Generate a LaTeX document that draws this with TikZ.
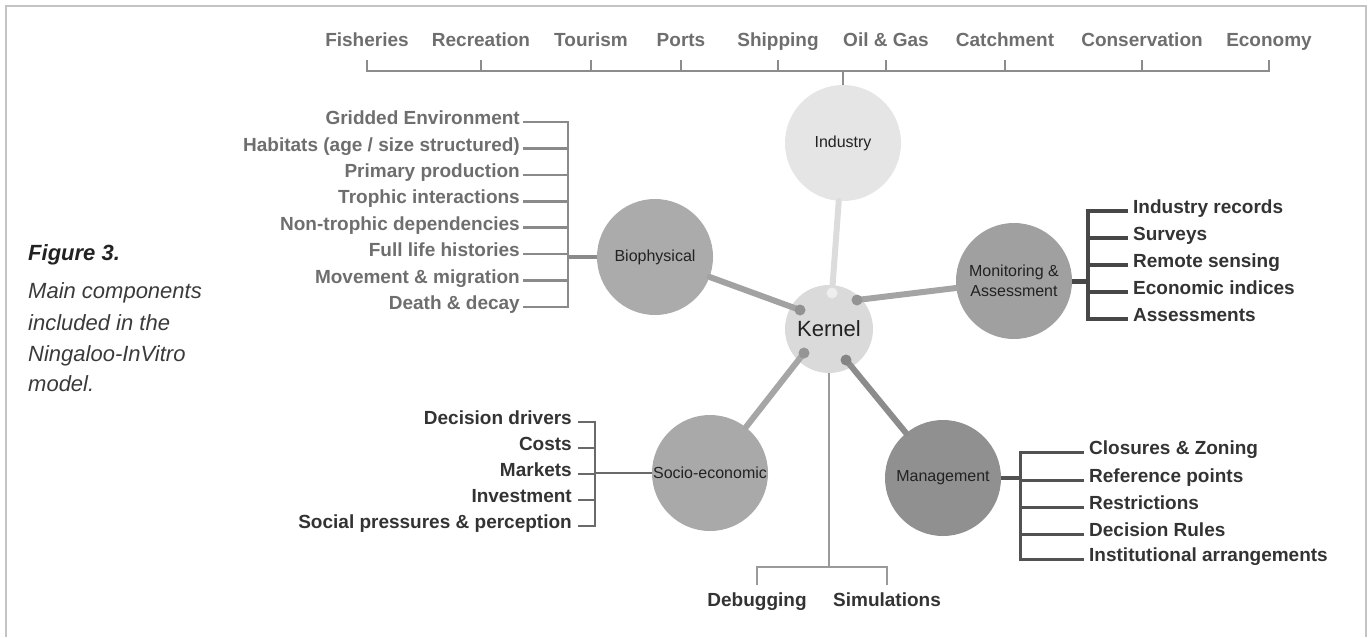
\documentclass[tikz,border=0pt]{standalone}
\usepackage{fontspec}
\setmainfont{Liberation Sans}
\usetikzlibrary{calc}
\definecolor{framec}{HTML}{C4C4C4}
\definecolor{topc}{HTML}{6E6E6E}
\definecolor{barc}{HTML}{8C8C8C}
\definecolor{indc}{HTML}{E5E5E5}
\definecolor{kerc}{HTML}{DADADA}
\definecolor{bioc}{HTML}{ABABAB}
\definecolor{monc}{HTML}{A0A0A0}
\definecolor{socc}{HTML}{A9A9A9}
\definecolor{mgc}{HTML}{909090}
\definecolor{indl}{HTML}{DCDCDC}
\definecolor{indd}{HTML}{EEEEEE}
\definecolor{biol}{HTML}{A2A2A2}
\definecolor{monl}{HTML}{A4A4A4}
\definecolor{socl}{HTML}{A6A6A6}
\definecolor{mgl}{HTML}{8C8C8C}
\definecolor{bioitem}{HTML}{6E6E6E}
\definecolor{biobr}{HTML}{8A8A8A}
\definecolor{monbr}{HTML}{474747}
\definecolor{mgbr}{HTML}{525252}
\definecolor{socbr}{HTML}{6A6A6A}
\definecolor{darkt}{HTML}{333333}
\definecolor{labc}{HTML}{222222}
\definecolor{capc}{HTML}{3A3A3A}
\definecolor{dbgbr}{HTML}{9A9A9A}
\tikzset{
  toplab/.style={font=\fontsize{19}{22}\selectfont\bfseries, text=topc, inner sep=0pt, anchor=mid},
  itemfont/.style={font=\fontsize{19}{22}\selectfont\bfseries, inner ysep=0pt},
  itemleft/.style={itemfont, anchor=mid east, inner xsep=3pt},
  itemright/.style={itemfont, anchor=mid west, inner xsep=5pt},
  blob/.style={circle, inner sep=0pt, minimum size=116pt, font=\fontsize{16}{20}\selectfont, text=labc, align=center},
  kline/.style={line width=6pt, line cap=round},
  capline/.style={font=\fontsize{22}{26}\selectfont\itshape, text=capc, anchor=base west, inner sep=0pt},
}
\begin{document}
\begin{tikzpicture}[x=1pt,y=-1pt]
\useasboundingbox (0,0) rectangle (1370,637);
\draw[framec, line width=1.5pt] (6,637) -- (6,6) -- (1366,6) -- (1366,637);

% caption
\node[capline, font=\fontsize{22}{26}\selectfont\bfseries\itshape, text=labc] (fig) at (28,260) {Figure 3.};
\node[capline] (c1) at (28,298) {Main components};
\node[capline] (c2) at (28,330) {included in the};
\node[capline] (c3) at (28,361) {Ningaloo-InVitro};
\node[capline] (c4) at (28,391) {model.};

% top labels
\node[toplab] (t1) at (367,44) {Fisheries};
\node[toplab] (t2) at (481,44) {Recreation};
\node[toplab] (t3) at (591,44) {Tourism};
\node[toplab] (t4) at (681,44) {Ports};
\node[toplab] (t5) at (778,44) {Shipping};
\node[toplab] (t6) at (886,44) {Oil \& Gas};
\node[toplab] (t7) at (1005,44) {Catchment};
\node[toplab] (t8) at (1142,44) {Conservation};
\node[toplab] (t9) at (1269,44) {Economy};
\coordinate (tt) at (0,60);
\coordinate (tb) at (0,71);

% circles
\node[blob, fill=indc] (ind) at (843,143) {Industry};
\node[blob, fill=kerc, minimum size=88pt, font=\fontsize{22}{26}\selectfont] (ker) at (829,329) {Kernel};
\node[blob, fill=bioc] (bio) at (655,257) {Biophysical};
\node[blob, fill=monc] (mon) at (1014,281) {Monitoring \&\\Assessment};
\node[blob, fill=socc] (soc) at (710,473) {Socio-economic};
\node[blob, fill=mgc] (mgt) at (943,478) {Management};

% top bar
\begin{scope}[barc, line width=2.6pt]
\foreach \n in {t1,t2,t3,t4,t5,t6,t7,t8,t9}
  \draw (\n.mid |- tt) -- (\n.mid |- tb);
\draw[line cap=rect] (t1.mid |- tb) -- (t9.mid |- tb);
\draw (ind.north) -- (ind.north |- tb);
\end{scope}

% kernel connectors
\coordinate (dind) at (832,293);
\coordinate (dbio) at (800,310);
\coordinate (dmon) at (857,300);
\coordinate (dsoc) at (804,353);
\coordinate (dmgt) at (846,360);
\draw[kline, indl] (dind) -- (ind);
\fill[indd] (dind) circle (5.5pt);
\draw[kline, biol] (dbio) -- (bio);
\fill[biol!90!black] (dbio) circle (5.5pt);
\draw[kline, monl] (dmon) -- (mon);
\fill[monl!90!black] (dmon) circle (5.5pt);
\draw[kline, socl] (dsoc) -- (soc);
\fill[socl!90!black] (dsoc) circle (5.5pt);
\draw[kline, mgl] (dmgt) -- (mgt);
\fill[mgl!95!black] (dmgt) circle (5.5pt);

% Biophysical items
\begin{scope}[text=bioitem]
\node[itemleft] (b1) at (523,122) {Gridded Environment};
\node[itemleft] (b2) at (523,148.4) {Habitats (age / size structured)};
\node[itemleft] (b3) at (523,174.9) {Primary production};
\node[itemleft] (b4) at (523,201.3) {Trophic interactions};
\node[itemleft] (b5) at (523,227.7) {Non-trophic dependencies};
\node[itemleft] (b6) at (523,254.1) {Full life histories};
\node[itemleft] (b7) at (523,280.6) {Movement \& migration};
\node[itemleft] (b8) at (523,307) {Death \& decay};
\end{scope}
\coordinate (bbar) at (568,0);
\begin{scope}[biobr, line width=2.6pt]
\foreach \n in {b1,b2,b3,b4,b5,b6,b7,b8}
  \draw (\n.mid east) -- (\n.mid east -| bbar);
\draw[line cap=rect] (b1.mid east -| bbar) -- (b8.mid east -| bbar);
\draw[line width=4pt] (bio.west) -- (bio.west -| bbar);
\end{scope}

% Monitoring items
\begin{scope}[text=darkt]
\node[itemright] (m1) at (1128,211) {Industry records};
\node[itemright] (m2) at (1128,238) {Surveys};
\node[itemright] (m3) at (1128,265) {Remote sensing};
\node[itemright] (m4) at (1128,292) {Economic indices};
\node[itemright] (m5) at (1128,319) {Assessments};
\end{scope}
\coordinate (mbar) at (1088,0);
\begin{scope}[monbr, line width=3.5pt]
\foreach \n in {m1,m2,m3,m4,m5}
  \draw (\n.mid west) -- (\n.mid west -| mbar);
\draw[line cap=rect] (m1.mid west -| mbar) -- (m5.mid west -| mbar);
\draw[line width=5pt] (mon.east) -- (mon.east -| mbar);
\end{scope}

% Management items
\begin{scope}[text=darkt]
\node[itemright] (g1) at (1084,452) {Closures \& Zoning};
\node[itemright] (g2) at (1084,480) {Reference points};
\node[itemright] (g3) at (1084,507) {Restrictions};
\node[itemright] (g4) at (1084,534) {Decision Rules};
\node[itemright] (g5) at (1084,559) {Institutional arrangements};
\end{scope}
\coordinate (gbar) at (1020,0);
\begin{scope}[mgbr, line width=3pt]
\foreach \n in {g1,g2,g3,g4,g5}
  \draw (\n.mid west) -- (\n.mid west -| gbar);
\draw[line cap=rect] (g1.mid west -| gbar) -- (g5.mid west -| gbar);
\draw[line width=3.5pt] (mgt.east) -- (mgt.east -| gbar);
\end{scope}

% Socio-economic items
\begin{scope}[text=darkt]
\node[itemleft, inner xsep=6pt] (s1) at (578,422) {Decision drivers};
\node[itemleft, inner xsep=6pt] (s2) at (578,448) {Costs};
\node[itemleft, inner xsep=6pt] (s3) at (578,474) {Markets};
\node[itemleft, inner xsep=6pt] (s4) at (578,500) {Investment};
\node[itemleft, inner xsep=6pt] (s5) at (578,526) {Social pressures \& perception};
\end{scope}
\coordinate (sbar) at (595,0);
\begin{scope}[socbr, line width=2.6pt]
\foreach \n in {s1,s2,s3,s4,s5}
  \draw (\n.mid east) -- (\n.mid east -| sbar);
\draw[line cap=rect] (s1.mid east -| sbar) -- (s5.mid east -| sbar);
\draw (soc.west) -- (soc.west -| sbar);
\end{scope}

% Debugging / Simulations
\node[itemfont, text=darkt, anchor=mid] (dbg) at (757,604) {Debugging};
\node[itemfont, text=darkt, anchor=mid] (sim) at (887,604) {Simulations};
\coordinate (dbar) at (0,567);
\coordinate (dtick) at (0,585);
\begin{scope}[dbgbr, line width=2.6pt]
\draw (ker.south) -- (ker.south |- dbar);
\draw (dbg.mid |- dtick) -- (dbg.mid |- dbar) -- (sim.mid |- dbar) -- (sim.mid |- dtick);
\end{scope}
\end{tikzpicture}
\end{document}
